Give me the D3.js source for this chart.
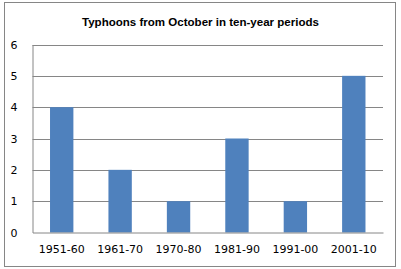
<!DOCTYPE html>
<html><head><meta charset="utf-8">
<script src="https://cdn.jsdelivr.net/npm/d3@7"></script>
<style>body{margin:0;background:#fff}svg{display:block}</style>
</head><body>
<script>
const title = "Typhoons from October in ten-year periods";
const categories = ["1951-60","1961-70","1970-80","1981-90","1991-00","2001-10"];
const values = [4,2,1,3,1,5];
const yTicks = [0,1,2,3,4,5,6];

const W = 401, H = 269;
const svg = d3.select("body").append("svg").attr("width", W).attr("height", H);
svg.append("rect").attr("x",4.5).attr("y",2.5).attr("width",391).attr("height",264)
  .attr("fill","#fff").attr("stroke","#868686").attr("stroke-width",1);

const pL = 32.5, pR = 383, pT = 44.5, pB = 232.5;
const x = d3.scaleBand().domain(categories).range([pL, pR]).paddingInner(0.6).paddingOuter(0.3);
const y = d3.scaleLinear().domain([0,6]).range([pB, pT]);

svg.append("text").attr("x",200.5).attr("y",26).attr("text-anchor","middle")
  .attr("font-family","Liberation Sans, Arial, sans-serif").attr("font-weight","bold")
  .attr("font-size",11.5).attr("fill","#000")
  .attr("textLength",237).attr("lengthAdjust","spacingAndGlyphs").text(title);

// gridlines
svg.append("g").selectAll("line").data(yTicks.filter(d=>d>0)).join("line")
  .attr("x1",pL).attr("x2",pR).attr("y1",d=>Math.round(y(d))+0.5).attr("y2",d=>Math.round(y(d))+0.5)
  .attr("stroke","#868686").attr("stroke-width",1);

// bars
svg.append("g").selectAll("rect").data(values).join("rect")
  .attr("x",(d,i)=>x(categories[i])).attr("width",x.bandwidth())
  .attr("y",d=>y(d)).attr("height",d=>y(0)-y(d)).attr("fill","#4F81BD");

// axes
const yAxis = d3.axisLeft(y).tickValues(yTicks).tickSize(0).tickPadding(15).tickFormat(d3.format("d"));
const gy = svg.append("g").attr("transform",`translate(${pL},0)`).call(yAxis);
gy.select(".domain").attr("stroke","#868686");
gy.selectAll("text").attr("font-family","DejaVu Sans, Verdana, sans-serif").attr("font-size",11).attr("fill","#000");

const xAxis = d3.axisBottom(x).tickSize(0).tickPadding(13);
const gx = svg.append("g").attr("transform",`translate(0,${pB})`).call(xAxis);
gx.select(".domain").attr("stroke","#868686");
gx.selectAll("text").attr("font-family","DejaVu Sans, Verdana, sans-serif").attr("font-size",11).attr("fill","#000");
</script>
</body></html>
